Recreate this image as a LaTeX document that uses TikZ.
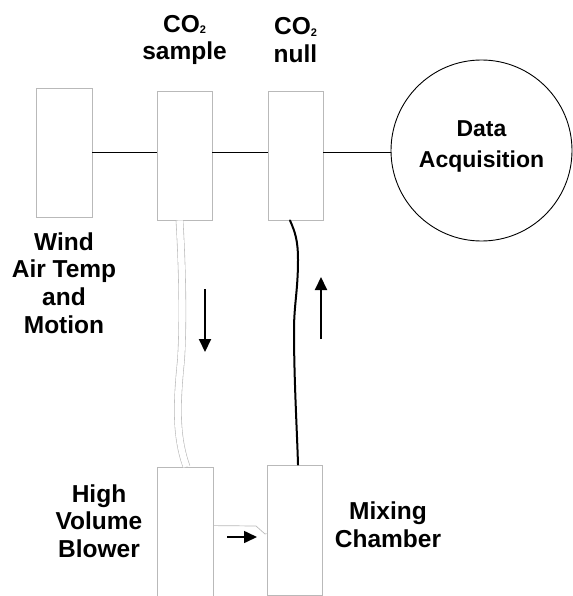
\documentclass[tikz,border=0pt]{standalone}
\usepackage{fontspec}
\setmainfont{Liberation Sans}
\usetikzlibrary{arrows.meta,positioning,calc}
\definecolor{boxgray}{RGB}{185,185,185}
\newcommand{\cotwo}{CO\raisebox{-1.5pt}{\fontsize{11}{11}\selectfont 2}}
\tikzset{
  unitbox/.style={draw=boxgray, line width=0.8pt, minimum width=55pt, minimum height=129pt, inner sep=0pt},
  sigln/.style={line width=1.1pt, black},
  lbl/.style={font=\fontsize{24.5}{27.6}\selectfont\bfseries, align=center, inner sep=0pt},
  daqlbl/.style={font=\fontsize{23}{31}\selectfont\bfseries, align=center, inner sep=0pt},
  flowarr/.style={-{Triangle[length=13pt,width=12pt]}, line width=2pt},
  tubeln/.style={draw=boxgray, double=white, double distance=6.4pt, line width=0.6pt},
  nullln/.style={line width=2pt, line cap=round},
}

\begin{document}
\begin{tikzpicture}[x=1pt, y=-1pt]
    \useasboundingbox (0,0) rectangle (572,596);

    % sensor boxes and data acquisition
    \node[unitbox, minimum width=56pt] (wind) at (64,152.5) {};
    \node[unitbox] (sample) at (184.5,155.5) {};
    \node[unitbox] (null) at (295.5,155.5) {};
    \node[draw, circle, line width=0.9pt, minimum size=181pt, inner sep=0pt] (daq) at (481.5,150.5) {};
    \node[daqlbl] (daqtxt) at ($(daq)+(0,-4.5)$) {Data\\Acquisition};

    \draw[sigln] (wind.east) -- (wind.east -| sample.west);
    \draw[sigln] (wind.east -| sample.east) -- (wind.east -| null.west);
    \draw[sigln] (wind.east -| null.east) -- (wind.east -| daq.west);

    \node[lbl] (samplelbl) at (184.5,40) {\cotwo\\sample};
    \node[lbl] (nulllbl) at (295.5,40) {\cotwo\\null};
    \node[lbl] (windlbl) at (64,283) {Wind\\Air Temp\\and\\Motion};

    % blower and mixing chamber
    \node[unitbox, minimum width=56pt, minimum height=130pt] (blower) at (185,532) {};
    \node[unitbox, minimum height=130pt] (mix) at (294.5,530) {};
    \node[lbl] (blowerlbl) at (99,521) {High\\Volume\\Blower};
    \node[lbl] (mixlbl) at (388,524.5) {Mixing\\Chamber};

    % sample line down to the blower
    \draw[tubeln] ($(sample.south)+(-5,0)$) .. controls (183,280) and (183,330) .. (181,360)
      .. controls (177,400) and (175,435) .. ($(blower.north)+(1.5,0)$);
    % null line back up from the chamber
    \draw[nullln] ($(null.south)+(-5.5,0)$) .. controls (295,232) and (298,240) .. (298,260)
      .. controls (298,290) and (294,305) .. (294,330)
      .. controls (294,380) and (297,430) .. ($(mix.north)+(3.5,0)$);
    % blower outlet into the chamber
    \draw[draw=boxgray, line width=0.7pt] ($(blower.north east)+(0,59)$) -- (256,526) -- (265,534) -- ($(mix.north west)+(0,69)$);

    % flow directions
    \draw[flowarr] (205,289) -- (205,352);
    \draw[flowarr] (321,339) -- (321,277);
    \draw[flowarr, line width=1.6pt] (227,537) -- (257,537);
  \end{tikzpicture}
\end{document}
